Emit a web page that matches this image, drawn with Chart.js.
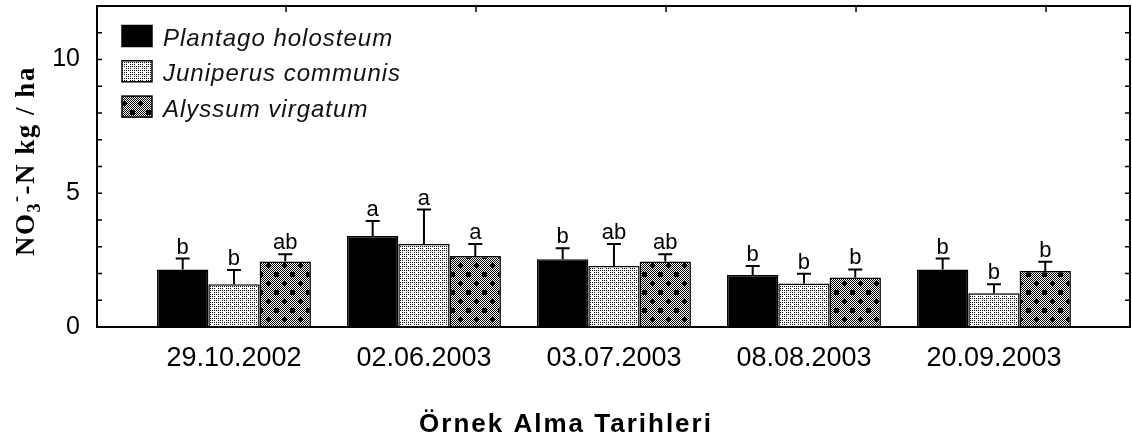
<!DOCTYPE html>
<html>
<head>
<meta charset="utf-8">
<title>NO3-N</title>
<script src="https://cdn.jsdelivr.net/npm/chart.js@4.4.1/dist/chart.umd.min.js"></script>
<style>
    html, body { margin: 0; padding: 0; background: #fff; }
    canvas { display: block; }
</style>
</head>
<body>
<canvas id="nitrateChart" width="1132" height="440"></canvas>
<script>
// values (kg/ha), error = upper whisker minus bar
const sampleDates = ['29.10.2002', '02.06.2003', '03.07.2003', '08.08.2003', '20.09.2003'];
const speciesNames = ['Plantago holosteum', 'Juniperus communis', 'Alyssum virgatum'];

const plantagoValues = [2.15, 3.40, 2.53, 1.94, 2.15];
const plantagoErrors = [0.41, 0.56, 0.41, 0.34, 0.41];
const plantagoLetters = ['b', 'a', 'b', 'b', 'b'];

const juniperusValues = [1.60, 3.10, 2.28, 1.63, 1.26];
const juniperusErrors = [0.53, 1.29, 0.82, 0.36, 0.34];
const juniperusLetters = ['b', 'a', 'ab', 'b', 'b'];

const alyssumValues = [2.45, 2.65, 2.45, 1.85, 2.09];
const alyssumErrors = [0.27, 0.45, 0.27, 0.30, 0.35];
const alyssumLetters = ['ab', 'a', 'ab', 'b', 'b'];

const yMajorTicks = [0, 5, 10];
const yMax = 12;

const yTitle = ['NO', '3', '-', '-N kg / ha'];
const xTitle = 'Örnek Alma Tarihleri';

document.addEventListener('DOMContentLoaded', function () {
    const canvas = document.getElementById('nitrateChart');
    const ctx = canvas.getContext('2d');

    const SANS = '"Liberation Sans", Arial, sans-serif';
    const SERIF = '"Liberation Serif", "Times New Roman", serif';

    function tile(w, h, paint) {
        const c = document.createElement('canvas');
        c.width = w;
        c.height = h;
        const g = c.getContext('2d');
        g.fillStyle = '#fff';
        g.fillRect(0, 0, w, h);
        g.fillStyle = '#000';
        paint(g, w, h);
        return ctx.createPattern(c, 'repeat');
    }

    // light dotted fill
    const dotPattern = tile(8, 8, function (g) {
        for (let y = 0; y < 8; y += 2) {
            for (let x = 0; x < 8; x += 2) {
                if ((x === 0 && y === 0) || (x === 4 && y === 4)) continue;
                g.fillRect(x, y, 1, 1);
            }
        }
    });

    // dark checker with black crosses
    const crossPattern = tile(16, 18, function (g, w, h) {
        for (let y = 0; y < h; y++) {
            for (let x = 0; x < w; x++) {
                if ((x + y) % 2 === 0) g.fillRect(x, y, 1, 1);
            }
        }
        [[4, 4], [12, 13]].forEach(function (p) {
            g.fillRect(p[0] - 1, p[1] - 2, 3, 5);
            g.fillRect(p[0] - 2, p[1] - 1, 5, 3);
        });
    });

    const fills = ['#000', dotPattern, crossPattern];
    const valueSets = [plantagoValues, juniperusValues, alyssumValues];
    const errorSets = [plantagoErrors, juniperusErrors, alyssumErrors];
    const letterSets = [plantagoLetters, juniperusLetters, alyssumLetters];

    const datasets = speciesNames.map(function (name, s) {
        return {
            label: name,
            data: sampleDates.map(function (_, i) {
                return { x: i + 1, y: valueSets[s][i] };
            }),
            backgroundColor: fills[s],
            borderColor: '#000',
            borderWidth: 1.5,
            borderSkipped: 'start',
            categoryPercentage: 0.81,
            barPercentage: 1
        };
    });

    const frameTicks = {
        id: 'frameTicks',
        afterDatasetsDraw(chart) {
            const c = chart.ctx;
            const a = chart.chartArea;
            const xs = chart.scales.x;
            const ys = chart.scales.y;
            c.save();
            c.strokeStyle = '#000';
            c.lineWidth = 2;
            c.strokeRect(a.left, a.top, a.right - a.left, a.bottom - a.top);
            c.lineWidth = 1.5;
            c.beginPath();
            for (let v = 1; v < yMax; v++) {
                const py = ys.getPixelForValue(v);
                c.moveTo(a.left, py);
                c.lineTo(a.left + 5, py);
                c.moveTo(a.right, py);
                c.lineTo(a.right - 5, py);
            }
            sampleDates.forEach(function (_, i) {
                const px = xs.getPixelForValue(i + 1.274);
                c.moveTo(px, a.top);
                c.lineTo(px, a.top + 6);
            });
            c.stroke();
            c.restore();
        }
    };

    const errorBars = {
        id: 'errorBars',
        afterDatasetsDraw(chart) {
            const c = chart.ctx;
            const ys = chart.scales.y;
            c.save();
            c.strokeStyle = '#000';
            c.fillStyle = '#000';
            c.lineWidth = 2;
            c.font = '22px ' + SANS;
            c.textAlign = 'center';
            c.textBaseline = 'alphabetic';
            chart.data.datasets.forEach(function (ds, s) {
                chart.getDatasetMeta(s).data.forEach(function (bar, i) {
                    const top = ys.getPixelForValue(valueSets[s][i] + errorSets[s][i]);
                    c.beginPath();
                    c.moveTo(bar.x, bar.y);
                    c.lineTo(bar.x, top);
                    c.moveTo(bar.x - 7, top);
                    c.lineTo(bar.x + 7, top);
                    c.stroke();
                    c.fillText(letterSets[s][i], bar.x, top - 5);
                });
            });
            c.restore();
        }
    };

    const legendBox = {
        id: 'legendBox',
        afterDraw(chart) {
            const c = chart.ctx;
            const a = chart.chartArea;
            c.save();
            c.font = 'italic 24px ' + SANS;
            c.letterSpacing = '1px';
            c.textBaseline = 'alphabetic';
            c.textAlign = 'left';
            chart.data.datasets.forEach(function (ds, s) {
                const cy = a.top + 30 + s * 35.3;
                c.fillStyle = ds.backgroundColor;
                c.fillRect(a.left + 25, cy - 10.5, 30, 21);
                c.strokeStyle = '#000';
                c.lineWidth = 1.5;
                c.strokeRect(a.left + 25, cy - 10.5, 30, 21);
                c.fillStyle = '#111';
                c.fillText(ds.label, a.left + 66, cy + 10);
            });
            c.restore();
        }
    };

    const axisTitles = {
        id: 'axisTitles',
        afterDraw(chart) {
            const c = chart.ctx;
            c.save();
            c.fillStyle = '#000';

            // x title, centred on the whole picture
            c.font = 'bold 26px ' + SANS;
            c.letterSpacing = '2px';
            c.textAlign = 'center';
            c.textBaseline = 'alphabetic';
            c.fillText(xTitle, chart.width / 2, 432);

            // y title with sub/superscript
            const parts = [
                { t: yTitle[0], f: 'bold 27px ' + SERIF, dy: 0 },
                { t: yTitle[1], f: 'bold 18px ' + SERIF, dy: 6 },
                { t: yTitle[2], f: 'bold 18px ' + SERIF, dy: -12 },
                { t: yTitle[3], f: 'bold 27px ' + SERIF, dy: 0 }
            ];
            c.letterSpacing = '1.5px';
            c.textAlign = 'left';
            let total = 0;
            parts.forEach(function (p) {
                c.font = p.f;
                p.w = c.measureText(p.t).width;
                total += p.w;
            });
            c.translate(34, 161);
            c.rotate(-Math.PI / 2);
            let u = -total / 2;
            parts.forEach(function (p) {
                c.font = p.f;
                c.fillText(p.t, u, p.dy);
                u += p.w;
            });
            c.restore();
        }
    };

    new Chart(ctx, {
        type: 'bar',
        data: { datasets: datasets },
        options: {
            responsive: false,
            animation: false,
            layout: { padding: { top: 6, right: 2, left: 0, bottom: 0 } },
            scales: {
                x: {
                    type: 'linear',
                    offset: false,
                    min: 0.279,
                    max: 5.716,
                    grid: { display: false, drawTicks: false },
                    border: { display: false },
                    afterBuildTicks: function (axis) {
                        axis.ticks = sampleDates.map(function (_, i) { return { value: i + 1 }; });
                    },
                    afterFit: function (scale) {
                        scale.height = 113;
                        scale.paddingLeft = 0;
                        scale.paddingRight = 0;
                    },
                    ticks: {
                        autoSkip: false,
                        maxRotation: 0,
                        padding: 15,
                        color: '#000',
                        font: { family: SANS, size: 27, lineHeight: 1.2 },
                        callback: function (value, index) { return sampleDates[index]; }
                    }
                },
                y: {
                    min: 0,
                    max: yMax,
                    grid: { display: false, drawTicks: false },
                    border: { display: false },
                    afterBuildTicks: function (axis) {
                        axis.ticks = yMajorTicks.map(function (v) { return { value: v }; });
                    },
                    afterFit: function (scale) {
                        scale.width = 97;
                        scale.paddingTop = 0;
                        scale.paddingBottom = 0;
                    },
                    ticks: {
                        padding: 17,
                        color: '#000',
                        font: { family: SANS, size: 25 }
                    }
                }
            },
            plugins: {
                legend: { display: false },
                tooltip: { enabled: false }
            }
        },
        plugins: [frameTicks, errorBars, legendBox, axisTitles]
    });
});
</script>
</body>
</html>
